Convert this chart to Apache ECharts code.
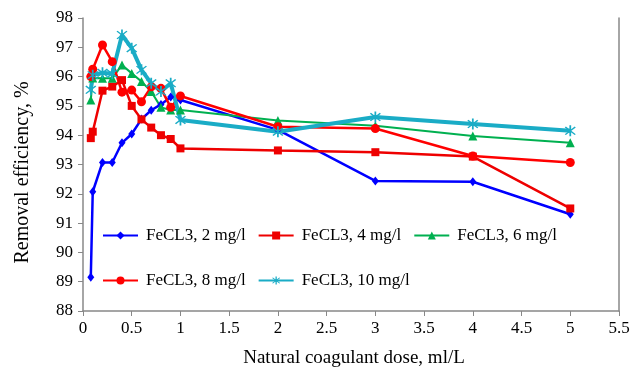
<!DOCTYPE html>
<html><head><meta charset="utf-8">
<script src="https://cdn.jsdelivr.net/npm/echarts@6/dist/echarts.min.js"></script>
<style>html,body{margin:0;padding:0;background:#fff}#c{width:643px;height:375px}</style>
</head><body><div id="c"></div>
<script>
const doses = [0.08,0.1,0.2,0.3,0.4,0.5,0.6,0.7,0.8,0.9,1,2,3,4,5];
const fe2  = [89.15,92.07,93.07,93.07,93.74,94.04,94.55,94.85,95.05,95.3,95.2,94.18,92.44,92.41,91.3];
const fe4  = [93.9,94.12,95.52,95.66,95.88,95.0,94.54,94.26,94.0,93.87,93.55,93.48,93.42,93.27,91.5];
const fe6  = [95.2,95.95,95.94,95.94,96.4,96.11,95.83,95.49,94.95,94.86,94.86,94.5,94.32,93.97,93.74];
const fe8  = [96.0,96.25,97.08,96.51,95.47,95.54,95.14,95.65,95.6,94.95,95.34,94.29,94.23,93.29,93.07];
const fe10 = [95.55,96.05,96.13,96.1,97.42,96.97,96.23,95.77,95.49,95.77,94.52,94.12,94.62,94.38,94.15];
const names = ['FeCL3, 2 mg/l','FeCL3, 4 mg/l','FeCL3, 6 mg/l','FeCL3, 8 mg/l','FeCL3, 10 mg/l'];
const xTicks = ['0','0.5','1','1.5','2','2.5','3','3.5','4','4.5','5','5.5'];
const yTicks = ['88','89','90','91','92','93','94','95','96','97','98'];

const pair = arr => doses.map((d,i)=>[d,arr[i]]);
const FONT = 'Liberation Serif';
const asterisk = 'path://M-5,-4 L-4,-5 L5,4 L4,5 Z M4,-5 L5,-4 L-4,5 L-5,4 Z M-0.8,-6.5 L0.8,-6.5 L0.8,6.5 L-0.8,6.5 Z';
const styles = [
  {color:'#0000FF', width:2.5, symbol:'diamond', size:[7,9]},
  {color:'#EE0000', width:2.5, symbol:'rect', size:8},
  {color:'#00B050', width:2, symbol:'triangle', size:9},
  {color:'#FF0000', width:2.5, symbol:'circle', size:9},
  {color:'#1AACC6', width:4, symbol:asterisk, size:11}
];
const dataArr = [fe2,fe4,fe6,fe8,fe10];
const series = dataArr.map((arr,i)=>({
  name:names[i], type:'line', data:pair(arr),
  symbol:styles[i].symbol, symbolSize:styles[i].size,
  lineStyle:{color:styles[i].color,width:styles[i].width},
  itemStyle:{color:styles[i].color},
  animation:false
}));
const legendText = {fontFamily:FONT,fontSize:17,color:'#000',padding:[0,0,0,3]};
const chart = echarts.init(document.getElementById('c'));
chart.setOption({
  backgroundColor:'#fff',
  grid:{left:83,right:24,top:18,bottom:64},
  legend:[
    {data:names.slice(0,3),left:97,top:222,itemWidth:35,itemHeight:10,itemGap:12,textStyle:legendText},
    {data:names.slice(3),left:97,top:267,itemWidth:35,itemHeight:10,itemGap:12,textStyle:legendText}
  ],
  xAxis:{type:'value',min:0,max:5.5,interval:0.5,
    name:'Natural coagulant dose, ml/L',nameLocation:'middle',nameGap:38,
    nameTextStyle:{fontFamily:FONT,fontSize:19,color:'#000',padding:[0,0,0,6]},
    axisLine:{lineStyle:{color:'#888',width:1.5}},
    axisTick:{show:true,length:5,lineStyle:{color:'#888'}},
    axisLabel:{fontFamily:FONT,fontSize:17,color:'#000',margin:9,
      formatter:v=>xTicks[Math.round(v/0.5)]},
    splitLine:{show:false}},
  yAxis:[{type:'value',min:88,max:98,interval:1,
    name:'Removal efficiency, %',nameLocation:'middle',nameGap:50,
    nameTextStyle:{fontFamily:FONT,fontSize:20,color:'#000',padding:[0,16,0,0]},
    axisLine:{show:true,lineStyle:{color:'#888',width:1.5}},
    axisTick:{show:true,length:5,lineStyle:{color:'#888'}},
    axisLabel:{fontFamily:FONT,fontSize:17,color:'#000',margin:10,
      formatter:v=>yTicks[Math.round(v-88)]},
    splitLine:{show:false}},
   {type:'value',min:88,max:98,interval:1,position:'right',
    axisLine:{show:true,lineStyle:{color:'#888',width:1.5}},
    axisTick:{show:false},axisLabel:{show:false},splitLine:{show:false}}],
  series:series
});
</script></body></html>
